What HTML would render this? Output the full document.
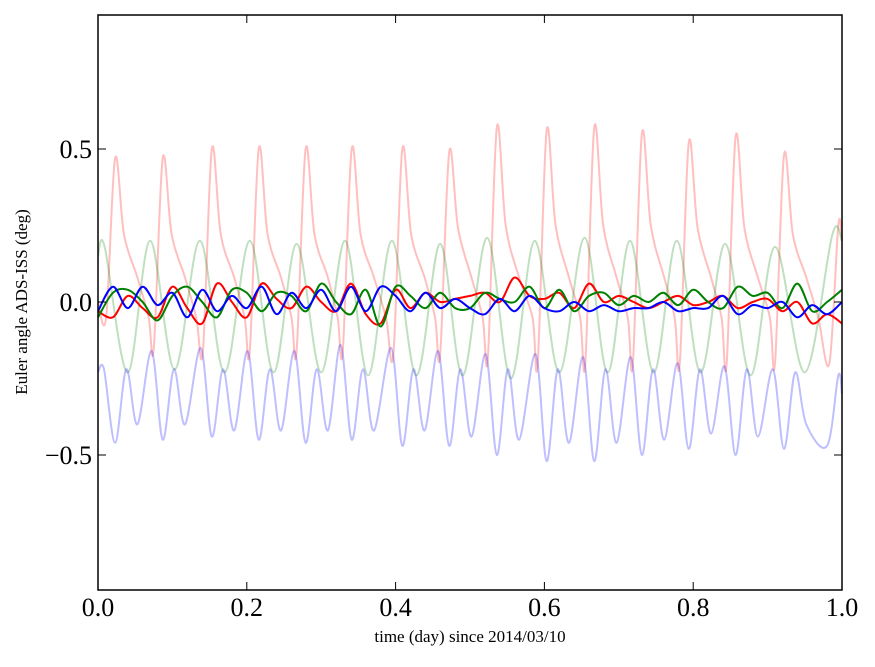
<!DOCTYPE html>
<html><head><meta charset="utf-8"><style>
body{margin:0;background:#fff;width:875px;height:662px;overflow:hidden}
text{font-family:"Liberation Serif",serif}
</style></head><body>
<svg id="chart" width="875" height="662">
<g id="series"></g>
<rect x="98" y="15" width="744" height="575" fill="none" stroke="#000" stroke-width="1.5"/>
<g id="axes"></g>
<text x="470" y="642" font-size="17" text-anchor="middle">time (day) since 2014/03/10</text>
<text transform="translate(27,302) rotate(-90)" font-size="17" text-anchor="middle">Euler angle ADS-ISS (deg)</text>
</svg>
<script>
const xTicks=[0,0.2,0.4,0.6,0.8,1.0];
const xTickLabels=["0.0","0.2","0.4","0.6","0.8","1.0"];
const yTicks=[0.5,0,-0.5];
const yTickLabels=["0.5","0.0","\u22120.5"];
const tR=[0,0.011,0.023,0.035,0.053,0.068,0.075,0.087,0.099,0.117,0.132,0.141,0.153,0.165,0.183,0.197,0.204,0.216,0.228,0.246,0.260,0.267,0.279,0.291,0.309,0.322,0.329,0.341,0.353,0.371,0.387,0.397,0.409,0.421,0.439,0.453,0.460,0.472,0.484,0.502,0.517,0.524,0.536,0.548,0.566,0.584,0.591,0.603,0.615,0.633,0.648,0.655,0.667,0.679,0.697,0.712,0.719,0.731,0.743,0.761,0.775,0.782,0.794,0.806,0.824,0.838,0.845,0.857,0.869,0.887,0.903,0.910,0.922,0.934,0.952,0.968,0.983,0.995,1.0];
const vR=[0.0,-0.05,0.47,0.22,0.08,-0.05,-0.15,0.47,0.22,0.08,-0.05,-0.16,0.50,0.22,0.08,-0.05,-0.16,0.50,0.22,0.08,-0.05,-0.16,0.50,0.22,0.08,-0.05,-0.16,0.50,0.22,0.08,-0.05,-0.17,0.50,0.22,0.08,-0.05,-0.17,0.49,0.24,0.08,-0.05,-0.18,0.57,0.25,0.08,-0.05,-0.2,0.56,0.25,0.08,-0.05,-0.2,0.57,0.25,0.08,-0.05,-0.2,0.55,0.25,0.08,-0.05,-0.2,0.52,0.24,0.08,-0.05,-0.2,0.54,0.24,0.08,-0.05,-0.2,0.48,0.22,0.08,-0.05,-0.2,0.25,0.2];
const tG=[0,0.009,0.04,0.07,0.103,0.137,0.17,0.204,0.236,0.267,0.3,0.332,0.363,0.395,0.428,0.46,0.49,0.523,0.555,0.587,0.62,0.654,0.685,0.715,0.747,0.778,0.81,0.843,0.877,0.91,0.95,0.987,1.0];
const vG=[0.15,0.18,-0.23,0.2,-0.22,0.2,-0.23,0.2,-0.23,0.19,-0.23,0.2,-0.24,0.2,-0.24,0.19,-0.24,0.21,-0.25,0.2,-0.23,0.21,-0.23,0.2,-0.23,0.2,-0.23,0.19,-0.24,0.18,-0.23,0.22,0.2];
const tB=[0,0.008,0.023,0.038,0.053,0.072,0.087,0.102,0.117,0.138,0.153,0.168,0.183,0.201,0.216,0.231,0.246,0.264,0.279,0.294,0.309,0.326,0.341,0.356,0.371,0.394,0.409,0.424,0.439,0.457,0.472,0.487,0.502,0.521,0.536,0.551,0.566,0.588,0.603,0.618,0.633,0.652,0.667,0.682,0.697,0.716,0.731,0.746,0.761,0.779,0.794,0.809,0.824,0.842,0.857,0.872,0.887,0.907,0.922,0.937,0.952,0.98,0.995,1.0];
const vB=[-0.23,-0.22,-0.46,-0.22,-0.4,-0.16,-0.45,-0.22,-0.4,-0.15,-0.44,-0.22,-0.42,-0.16,-0.45,-0.22,-0.42,-0.16,-0.46,-0.22,-0.42,-0.14,-0.45,-0.22,-0.42,-0.15,-0.47,-0.22,-0.42,-0.16,-0.47,-0.22,-0.44,-0.17,-0.5,-0.22,-0.45,-0.17,-0.52,-0.22,-0.46,-0.18,-0.52,-0.22,-0.46,-0.18,-0.5,-0.22,-0.45,-0.2,-0.48,-0.22,-0.43,-0.21,-0.5,-0.22,-0.44,-0.22,-0.48,-0.23,-0.4,-0.47,-0.24,-0.3];
const tDark=[0,0.02,0.04,0.06,0.08,0.10,0.12,0.14,0.16,0.18,0.20,0.22,0.24,0.26,0.28,0.30,0.32,0.34,0.36,0.38,0.40,0.42,0.44,0.46,0.48,0.50,0.52,0.54,0.56,0.58,0.60,0.62,0.64,0.66,0.68,0.70,0.72,0.74,0.76,0.78,0.80,0.82,0.84,0.86,0.88,0.90,0.92,0.94,0.96,0.98,1.0];
const vRed=[-0.03,-0.05,0.02,-0.02,-0.05,0.05,-0.02,-0.07,0.06,0.0,-0.05,0.06,0.01,-0.02,0.05,0.0,-0.03,0.06,-0.04,-0.07,0.04,-0.02,0.03,0.0,0.01,0.02,0.03,0.0,0.08,0.02,0.01,0.03,-0.02,0.06,0.0,0.02,0.0,-0.02,0.0,0.02,-0.01,0.0,0.02,-0.02,0.0,0.01,-0.03,0.0,-0.07,-0.04,-0.07];
const vGreen=[-0.05,0.03,0.04,0.0,-0.06,0.02,0.05,0.0,-0.05,0.04,0.03,-0.03,0.03,0.02,-0.03,0.06,0.0,-0.04,0.04,-0.08,0.05,0.02,-0.02,0.03,-0.02,-0.02,0.03,0.01,0.0,0.05,-0.02,0.04,-0.03,0.02,0.03,-0.01,0.02,0.0,0.03,-0.01,0.04,0.0,-0.02,0.05,0.02,0.03,-0.02,0.06,-0.03,0.0,0.04];
const vBlue=[-0.03,0.05,-0.02,0.05,-0.01,0.03,-0.05,0.04,-0.03,0.02,-0.02,0.05,-0.04,0.03,-0.02,0.04,-0.03,0.05,-0.03,0.05,0.02,-0.03,0.03,-0.02,0.01,-0.02,-0.04,0.01,-0.03,0.02,-0.02,-0.03,0.0,-0.03,-0.01,-0.03,-0.02,-0.02,0.0,-0.03,-0.02,-0.02,0.02,-0.04,-0.01,-0.02,0.0,-0.05,-0.01,-0.04,0.0];
const X=t=>98+t*744, Y=v=>302-v*306;
const NS="http://www.w3.org/2000/svg";
const sg=document.getElementById('series'), ax=document.getElementById('axes');
function smoothPath(pts){
  let d=`M${pts[0][0].toFixed(1)},${pts[0][1].toFixed(1)}`;
  for(let i=0;i<pts.length-1;i++){
    const p0=pts[Math.max(i-1,0)],p1=pts[i],p2=pts[i+1],p3=pts[Math.min(i+2,pts.length-1)];
    const c1x=p1[0]+(p2[0]-p0[0])/6,c1y=p1[1]+(p2[1]-p0[1])/6;
    const c2x=p2[0]-(p3[0]-p1[0])/6,c2y=p2[1]-(p3[1]-p1[1])/6;
    d+=`C${c1x.toFixed(1)},${c1y.toFixed(1)} ${c2x.toFixed(1)},${c2y.toFixed(1)} ${p2[0].toFixed(1)},${p2[1].toFixed(1)}`;
  }
  return d;
}
function line(ts,vs,color,op,w,name){
  const p=document.createElementNS(NS,'path');
  p.setAttribute('d',smoothPath(ts.map((t,i)=>[X(t),Y(vs[i])])));
  p.setAttribute('fill','none');p.setAttribute('stroke',color);p.setAttribute('stroke-opacity',op);
  p.setAttribute('stroke-width',w);p.setAttribute('stroke-linejoin','round');
  
  
  sg.appendChild(p);
}
line(tR,vR,'#ff0000',0.25,2,'faded-red-series');
line(tG,vG,'#008000',0.25,2,'faded-green-series');
line(tB,vB,'#0000ff',0.25,2,'faded-blue-series');
line(tDark,vRed,'#ff0000',1,2,'red-series');
line(tDark,vGreen,'#008000',1,2,'green-series');
line(tDark,vBlue,'#0000ff',1,2,'blue-series');
xTicks.forEach((t,i)=>{
  const x=X(t);
  const l=document.createElementNS(NS,'path');
  l.setAttribute('d',`M${x},590v-8M${x},15v8`);l.setAttribute('stroke','#000');
  
  
  ax.appendChild(l);
  const tx=document.createElementNS(NS,'text');
  tx.setAttribute('x',x);tx.setAttribute('y',616);tx.setAttribute('font-size','26');tx.setAttribute('text-anchor','middle');
  tx.textContent=xTickLabels[i];
  
  
  ax.appendChild(tx);
});
yTicks.forEach((v,i)=>{
  const y=Y(v);
  const l=document.createElementNS(NS,'path');
  l.setAttribute('d',`M98,${y}h8M842,${y}h-8`);l.setAttribute('stroke','#000');
  
  
  ax.appendChild(l);
  const tx=document.createElementNS(NS,'text');
  tx.setAttribute('x',92);tx.setAttribute('y',y+9);tx.setAttribute('font-size','26');tx.setAttribute('text-anchor','end');
  tx.textContent=yTickLabels[i];
  
  
  ax.appendChild(tx);
});
</script>
</body></html>
